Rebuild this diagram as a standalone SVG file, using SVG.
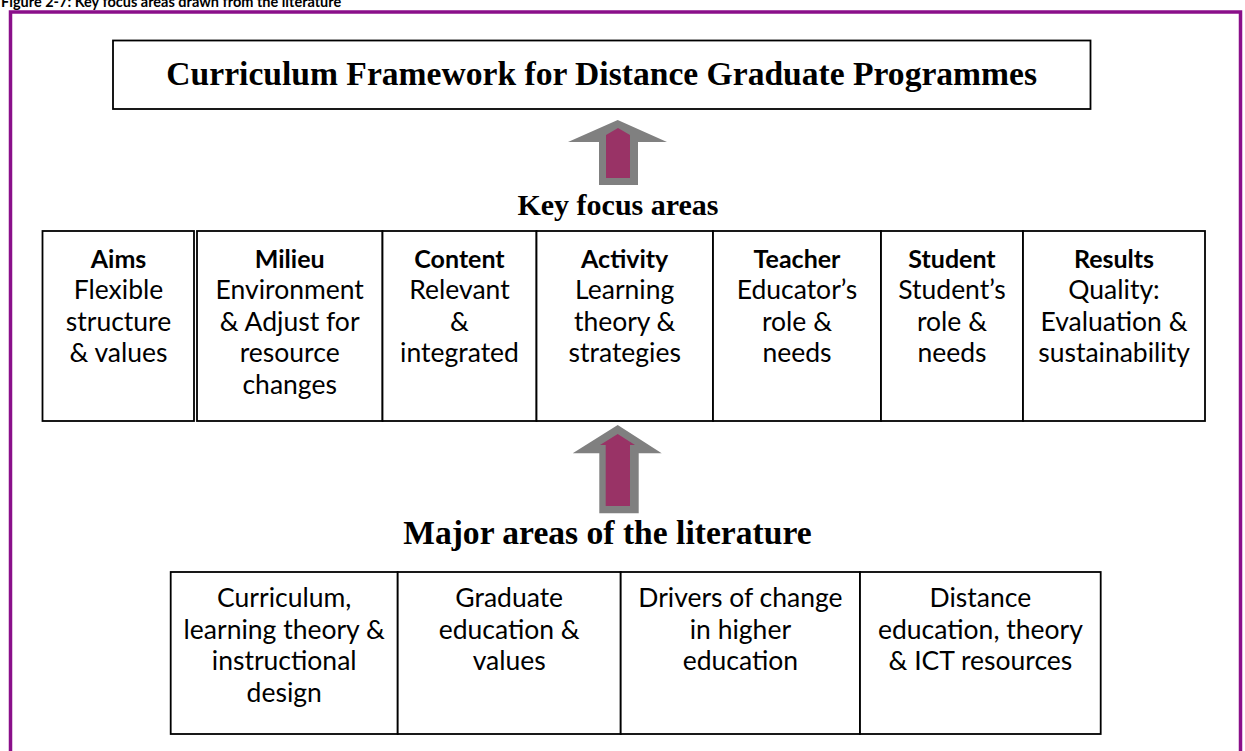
<svg xmlns="http://www.w3.org/2000/svg" width="1245" height="751" viewBox="0 0 1245 751">
<style>
.box{fill:#fff;stroke:#000;stroke-width:1.8}
.h{font-family:"Liberation Serif","Times New Roman",serif;font-weight:bold;fill:#000;text-anchor:middle}
.t{font-family:Lato,"Liberation Sans",Arial,sans-serif;font-size:26.5px;fill:#000;text-anchor:middle}
.b{font-weight:bold;font-size:25px}
.cap{font-family:Lato,"Liberation Sans",Arial,sans-serif;font-size:14.5px;font-weight:bold;fill:#000}
.gray{fill:#808080}
.mag{fill:#993366}
</style>
<rect width="1245" height="751" fill="#fff"/>
<text class="cap" x="1" y="6.5">Figure 2-7: Key focus areas drawn from the literature</text>
<path d="M10.5,760 V12 H1240.5 V760" fill="none" stroke="#8A0F8A" stroke-width="3.5"/>

<g id="title">
<rect class="box" x="113" y="40.5" width="977.5" height="68.5"/>
<text class="h" x="601.7" y="85" font-size="33.6">Curriculum Framework for Distance Graduate Programmes</text>
</g>

<g id="connectors">
<g id="arrow1">
<polygon class="gray" points="617.7,120 667,142 638,142 638,185 599,185 599,142 568,142"/>
<polygon class="mag" points="606,135 618,128 630,135 630,178 606,178"/>
</g>
<g id="arrow2">
<polygon class="gray" points="617.7,425 661.7,453.3 638.7,453.3 638.7,513.3 599.3,513.3 599.3,453.3 572.7,453.3"/>
<polygon class="mag" points="617.7,434 635,445 630,445 630,506 605.7,506 605.7,445 600,445"/>
</g>
</g>

<g id="key-focus-heading">
<text class="h" x="618" y="215" font-size="30">Key focus areas</text>
</g>

<g id="aims">
<rect class="box" x="42.5" y="231" width="151.5" height="190"/>
<text class="t" x="118.5"><tspan class="b" x="118.5" y="267.5">Aims</tspan><tspan x="118.5" y="299">Flexible</tspan><tspan x="118.5" y="330.5">structure</tspan><tspan x="118.5" y="362">&amp; values</tspan></text>
</g>
<g id="milieu">
<rect class="box" x="197" y="231" width="185.5" height="190"/>
<text class="t" x="289.7"><tspan class="b" x="289.7" y="267.5">Milieu</tspan><tspan x="289.7" y="299">Environment</tspan><tspan x="289.7" y="330.5">&amp; Adjust for</tspan><tspan x="289.7" y="362">resource</tspan><tspan x="289.7" y="393.5">changes</tspan></text>
</g>
<g id="content">
<rect class="box" x="382.5" y="231" width="154" height="190"/>
<text class="t" x="459.5"><tspan class="b" x="459.5" y="267.5">Content</tspan><tspan x="459.5" y="299">Relevant</tspan><tspan x="459.5" y="330.5">&amp;</tspan><tspan x="459.5" y="362">integrated</tspan></text>
</g>
<g id="activity">
<rect class="box" x="536.5" y="231" width="176.5" height="190"/>
<text class="t" x="624.7"><tspan class="b" x="624.7" y="267.5">Activity</tspan><tspan x="624.7" y="299">Learning</tspan><tspan x="624.7" y="330.5">theory &amp;</tspan><tspan x="624.7" y="362">strategies</tspan></text>
</g>
<g id="teacher">
<rect class="box" x="713" y="231" width="168" height="190"/>
<text class="t" x="797"><tspan class="b" x="797" y="267.5">Teacher</tspan><tspan x="797" y="299">Educator’s</tspan><tspan x="797" y="330.5">role &amp;</tspan><tspan x="797" y="362">needs</tspan></text>
</g>
<g id="student">
<rect class="box" x="881" y="231" width="142" height="190"/>
<text class="t" x="952"><tspan class="b" x="952" y="267.5">Student</tspan><tspan x="952" y="299">Student’s</tspan><tspan x="952" y="330.5">role &amp;</tspan><tspan x="952" y="362">needs</tspan></text>
</g>
<g id="results">
<rect class="box" x="1023" y="231" width="182" height="190"/>
<text class="t" x="1114"><tspan class="b" x="1114" y="267.5">Results</tspan><tspan x="1114" y="299">Quality:</tspan><tspan x="1114" y="330.5">Evaluation &amp;</tspan><tspan x="1114" y="362">sustainability</tspan></text>
</g>

<g id="major-heading">
<text class="h" x="607.4" y="544.3" font-size="33.6">Major areas of the literature</text>
</g>

<g id="lit-curriculum">
<rect class="box" x="170.7" y="572" width="227" height="162"/>
<text class="t" x="284.2"><tspan x="284.2" y="607">Curriculum,</tspan><tspan x="284.2" y="638.5">learning theory &amp;</tspan><tspan x="284.2" y="670">instructional</tspan><tspan x="284.2" y="701.5">design</tspan></text>
</g>
<g id="lit-graduate">
<rect class="box" x="397.7" y="572" width="223" height="162"/>
<text class="t" x="509.2"><tspan x="509.2" y="607">Graduate</tspan><tspan x="509.2" y="638.5">education &amp;</tspan><tspan x="509.2" y="670">values</tspan></text>
</g>
<g id="lit-drivers">
<rect class="box" x="620.7" y="572" width="239.3" height="162"/>
<text class="t" x="740.4"><tspan x="740.4" y="607">Drivers of change</tspan><tspan x="740.4" y="638.5">in higher</tspan><tspan x="740.4" y="670">education</tspan></text>
</g>
<g id="lit-distance">
<rect class="box" x="860" y="572" width="240.7" height="162"/>
<text class="t" x="980.4"><tspan x="980.4" y="607">Distance</tspan><tspan x="980.4" y="638.5">education, theory</tspan><tspan x="980.4" y="670">&amp; ICT resources</tspan></text>
</g>
</svg>
